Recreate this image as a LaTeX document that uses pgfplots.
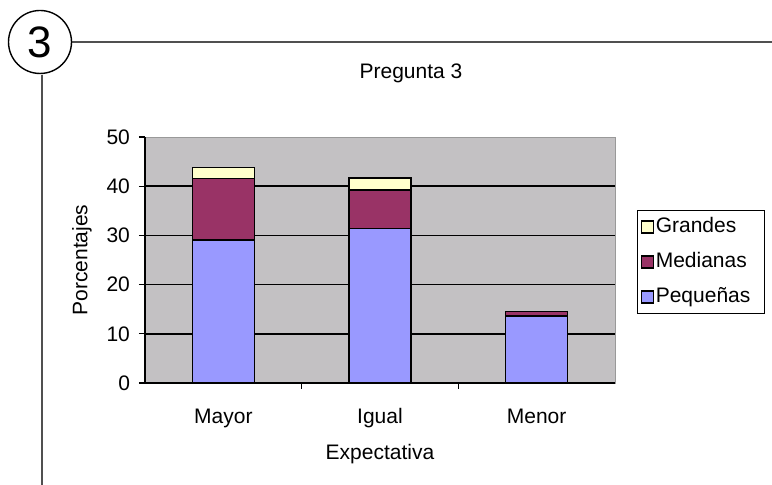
\documentclass[border=0pt]{standalone}
\usepackage{pgfplots}
\pgfplotsset{compat=1.18}
\usepackage{fontspec}
\setmainfont{Liberation Sans}
\definecolor{pequenas}{HTML}{9999FF}
\definecolor{medianas}{HTML}{993366}
\definecolor{grandes}{HTML}{FFFFCC}
\definecolor{plotgray}{HTML}{C3C1C3}
\definecolor{frameline}{HTML}{505050}
\begin{document}
\begin{tikzpicture}
\useasboundingbox (0,0) rectangle (386pt,242.5pt);
% decorative frame
\draw[frameline, line width=1pt] (35.7pt,221.5pt) -- (386pt,221.5pt);
\draw[frameline, line width=1pt] (21pt,205.2pt) -- (21pt,0pt);
\draw[black, line width=0.7pt] (20pt,221.5pt) circle (15.75pt);
\node[font=\fontsize{22}{24}\selectfont] at (20pt,221.2pt) {3};
\node[font=\fontsize{10.5}{12}\selectfont] at (205.5pt,206pt) {Pregunta 3};
\begin{axis}[
  at={(72.5pt,51pt)}, anchor=south west,
  scale only axis, width=235pt, height=123pt,
  ybar stacked, bar width=31pt,
  xmin=-0.5, xmax=2.5, ymin=0, ymax=50,
  axis background/.style={fill=plotgray, draw=gray!80},
  axis x line*=bottom, axis y line*=left,
  axis line style={black, line width=0.8pt},
  xtick={0,1,2}, xticklabels={Mayor,Igual,Menor},
  x tick style={draw=none},
  extra x ticks={0.5,1.5}, extra x tick labels={},
  extra x tick style={x tick style={draw=black, line width=0.6pt}, major tick length=3pt, xtick align=outside},
  ytick={0,50},
  extra y ticks={10,20,30,40},
  extra y tick style={grid=major},
  grid style={black, line width=0.8pt},
  ytick align=outside, major tick length=3pt,
  y tick style={black, line width=0.6pt},
  /pgf/number format/assume math mode=true,
  ticklabel style={font=\fontsize{10.5}{12}\selectfont},
  xticklabel style={anchor=north, text height=8pt, text depth=2.5pt, yshift=-8.5pt},
  yticklabel style={xshift=-1pt},
  xlabel={Expectativa}, ylabel={Porcentajes},
  label style={font=\fontsize{10.5}{12}\selectfont},
  xlabel style={yshift=2pt},
  ylabel style={yshift=-5.5pt},
  legend style={at={(1.0468,0.7033)}, anchor=north west, draw=black, line width=0.6pt,
    font=\fontsize{10.5}{12}\selectfont, row sep=6pt, inner xsep=1.5pt, inner ysep=2.5pt,
    nodes={inner sep=1pt, text height=7.5pt, text depth=2pt}},
  legend cell align=left,
  reverse legend,
  legend image code/.code={\draw[#1, line width=0.6pt, draw=black] (0pt,-3pt) rectangle (6pt,3pt);},
]
\addplot[fill=pequenas, draw=black, line width=0.8pt] coordinates {(0,29.1) (1,31.4) (2,13.6)};
\addlegendentry{\makebox[52pt][l]{Pequeñas}}
\addplot[fill=medianas, draw=black, line width=0.8pt] coordinates {(0,12.5) (1,7.8) (2,0.9)};
\addlegendentry{\makebox[52pt][l]{Medianas}}
\addplot[fill=grandes, draw=black, line width=0.8pt] coordinates {(0,2.2) (1,2.5) (2,0)};
\addlegendentry{\makebox[52pt][l]{Grandes}}
\end{axis}
\end{tikzpicture}
\end{document}
